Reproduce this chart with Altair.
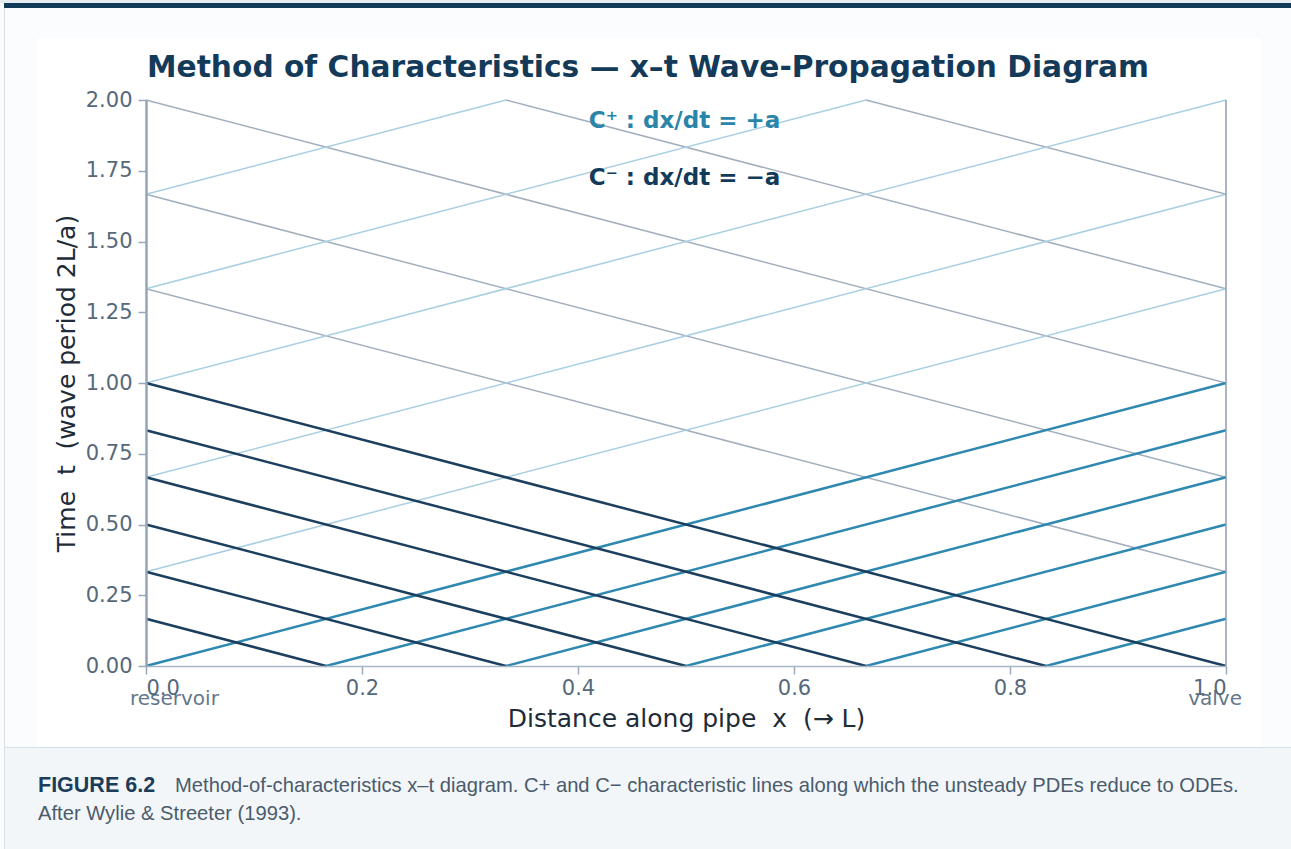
import altair as alt
import pandas as pd

# ---------------- data ----------------
# primary C+ characteristics (dark teal)
cp_x1 = [0.0, 0.1667, 0.3333, 0.5, 0.6667, 0.8333]
cp_t1 = [0.0, 0.0, 0.0, 0.0, 0.0, 0.0]
cp_x2 = [1.0, 1.0, 1.0, 1.0, 1.0, 1.0]
cp_t2 = [1.0, 0.8333, 0.6667, 0.5, 0.3333, 0.1667]

# primary C- characteristics (dark navy)
cm_x1 = [0.0, 0.0, 0.0, 0.0, 0.0, 0.0]
cm_t1 = [0.1667, 0.3333, 0.5, 0.6667, 0.8333, 1.0]
cm_x2 = [0.1667, 0.3333, 0.5, 0.6667, 0.8333, 1.0]
cm_t2 = [0.0, 0.0, 0.0, 0.0, 0.0, 0.0]

# reflected C+ (light blue)
rp_x1 = [0.0, 0.0, 0.0, 0.0, 0.0]
rp_t1 = [0.3333, 0.6667, 1.0, 1.3333, 1.6667]
rp_x2 = [1.0, 1.0, 1.0, 0.6667, 0.3333]
rp_t2 = [1.3333, 1.6667, 2.0, 2.0, 2.0]

# reflected C- (grey)
rm_x1 = [1.0, 1.0, 1.0, 1.0, 1.0]
rm_t1 = [0.3333, 0.6667, 1.0, 1.3333, 1.6667]
rm_x2 = [0.0, 0.0, 0.0, 0.3333, 0.6667]
rm_t2 = [1.3333, 1.6667, 2.0, 2.0, 2.0]

x_ticks = [0.0, 0.2, 0.4, 0.6, 0.8, 1.0]
t_ticks = [0.0, 0.25, 0.5, 0.75, 1.0, 1.25, 1.5, 1.75, 2.0]

legend_labels = ["C\u207a : dx/dt = +a", "C\u207b : dx/dt = \u2212a"]
legend_x = [0.41, 0.41]
legend_t = [1.9, 1.7]

end_labels = ["reservoir", "valve"]
end_x = [0.0, 1.0]

NB2 = "\u00a0\u00a0"
title_text = "Method of Characteristics \u2014 x\u2013t Wave-Propagation Diagram"
x_title = "Distance along pipe" + NB2 + "x" + NB2 + "(\u2192 L)"
y_title = "Time" + NB2 + "t" + NB2 + "(wave period 2L/a)"
fig_label = "FIGURE 6.2"
caption_1 = ("Method-of-characteristics x\u2013t diagram. C+ and C\u2212 characteristic lines "
             "along which the unsteady PDEs reduce to ODEs.")
caption_2 = "After Wylie & Streeter (1993)."

# ---------------- layout constants ----------------
W, H = 1080, 566
PL, PT = 146, 100
PR, PB = 1291 - PL - W, 849 - PT - H

C_PLUS = "#2f88af"
C_MINUS = "#1d3f5e"
C_PLUS_L = "#a9cfe2"
C_MINUS_L = "#a3afbd"
NAVY = "#143a5a"
FONT = "DejaVu Sans"
LABEL_C = "#56697b"


def seg_df(x1, t1, x2, t2):
    return pd.DataFrame({"x1": x1, "t1": t1, "x2": x2, "t2": t2})


xs = alt.Scale(domain=[0, 1], nice=False, zero=False)
ys = alt.Scale(domain=[0, 2], nice=False, zero=False)

x_axis = alt.Axis(values=x_ticks, format=".1f", grid=False, domainColor="#a9b7c5",
                  domainWidth=1.5, tickColor="#98a8b8", tickSize=8, tickWidth=1.5,
                  labelFont=FONT, labelFontSize=21, labelColor=LABEL_C, labelPadding=3,
                  title=x_title, titleFont=FONT,
                  titleFontSize=25, titleFontWeight="normal", titleColor="#1e2b38",
                  titleBaseline="alphabetic", titleY=60, zindex=1)
y_axis = alt.Axis(values=t_ticks, format=".2f", grid=False, domainColor="#93a5b6",
                  domainWidth=2.5, tickColor="#98a8b8", tickSize=8, tickWidth=1.5,
                  labelFont=FONT, labelFontSize=21, labelColor=LABEL_C, labelPadding=6,
                  title=y_title, titleFont=FONT, titleFontSize=25,
                  titleFontWeight="normal", titleColor="#1e2b38", titleAngle=-90,
                  titleBaseline="alphabetic", titleAlign="center", titleX=-72, titleY=H / 2,
                  zindex=1)

one = alt.Data(values=[{"k": 1}])


def deco_rect(x, x2, y, y2, color):
    return alt.Chart(one).mark_rect(color=color).encode(
        x=alt.value(x - PL), x2=alt.value(x2 - PL), y=alt.value(y - PT), y2=alt.value(y2 - PT))


# page decoration
top_strip = deco_rect(0, 1291, 0, 3, "#e7ecf1")
top_bar = deco_rect(4, 1291, 3, 8, "#123a59")
left_border = deco_rect(4, 5, 8, 849, "#d6dee6")
card = deco_rect(37, 1261, 38, 747, "#ffffff")
cap_band = deco_rect(5, 1291, 748, 849, "#f3f6f9")
cap_line = deco_rect(5, 1291, 747, 748, "#d6e0ea")


def seg_layer(df, color, width, with_axes=False):
    if with_axes:
        xe = alt.X("x1:Q", scale=xs, axis=x_axis)
        ye = alt.Y("t1:Q", scale=ys, axis=y_axis)
    else:
        xe = alt.X("x1:Q", scale=xs)
        ye = alt.Y("t1:Q", scale=ys)
    return alt.Chart(df).mark_rule(color=color, strokeWidth=width).encode(
        x=xe, y=ye, x2="x2:Q", y2="t2:Q")


l_rm = seg_layer(seg_df(rm_x1, rm_t1, rm_x2, rm_t2), C_MINUS_L, 1.5, with_axes=True)
l_rp = seg_layer(seg_df(rp_x1, rp_t1, rp_x2, rp_t2), C_PLUS_L, 1.5)
l_cp = seg_layer(seg_df(cp_x1, cp_t1, cp_x2, cp_t2), C_PLUS, 2.5)
l_cm = seg_layer(seg_df(cm_x1, cm_t1, cm_x2, cm_t2), C_MINUS, 2.5)

# valve boundary line at x = 1
valve_line = alt.Chart(pd.DataFrame({"x": [1.0], "t1": [0.0], "t2": [2.0]})).mark_rule(
    color="#8d9daf", strokeWidth=1.5).encode(
    x=alt.X("x:Q", scale=xs), y=alt.Y("t1:Q", scale=ys), y2="t2:Q")

leg_df = pd.DataFrame({"label": legend_labels, "x": legend_x, "t": legend_t})
legend_text = alt.Chart(leg_df).mark_text(
    font=FONT, fontSize=23, fontWeight="bold", align="left", baseline="alphabetic").encode(
    x=alt.X("x:Q", scale=xs), y=alt.Y("t:Q", scale=ys), text="label:N",
    color=alt.Color("label:N", scale=alt.Scale(domain=legend_labels, range=["#2a85aa", NAVY]),
                    legend=None))

end_df = pd.DataFrame({"label": end_labels, "x": end_x})
res_text = alt.Chart(end_df).transform_filter(alt.datum.label == "reservoir").mark_text(
    font=FONT, fontSize=20, color="#64778a", align="left", baseline="alphabetic", dx=-16).encode(
    x=alt.X("x:Q", scale=xs), y=alt.value(705 - PT), text="label:N")
valve_text = alt.Chart(end_df).transform_filter(alt.datum.label == "valve").mark_text(
    font=FONT, fontSize=20, color="#64778a", align="right", baseline="alphabetic", dx=16).encode(
    x=alt.X("x:Q", scale=xs), y=alt.value(705 - PT), text="label:N")

title = alt.Chart(alt.Data(values=[{"t": title_text}])).mark_text(
    font=FONT, fontSize=29.7, fontWeight="bold", color=NAVY, align="center",
    baseline="alphabetic").encode(x=alt.value(648 - PL), y=alt.value(77 - PT), text="t:N")

cap_fig = alt.Chart(alt.Data(values=[{"t": fig_label}])).mark_text(
    font="Liberation Sans", fontSize=21.5, fontWeight="bold", color="#1b3d5a", align="left",
    baseline="alphabetic").encode(
    x=alt.value(38 - PL), y=alt.value(792 - PT), text="t:N")
cap_1 = alt.Chart(alt.Data(values=[{"t": caption_1}])).mark_text(
    font="Liberation Sans", fontSize=20.2, color="#4a5b6c", align="left",
    baseline="alphabetic").encode(x=alt.value(175 - PL), y=alt.value(792 - PT), text="t:N")
cap_2 = alt.Chart(alt.Data(values=[{"t": caption_2}])).mark_text(
    font="Liberation Sans", fontSize=20.2, color="#4a5b6c", align="left",
    baseline="alphabetic").encode(x=alt.value(38 - PL), y=alt.value(820 - PT), text="t:N")

chart = alt.layer(
    top_strip, top_bar, left_border, card, cap_band, cap_line,
    l_rm, l_rp, l_cp, l_cm, valve_line,
    legend_text, res_text, valve_text, title, cap_fig, cap_1, cap_2,
).properties(
    width=W, height=H, background="#fafcfe",
    padding={"left": PL, "top": PT, "right": PR, "bottom": PB},
    autosize=alt.AutoSizeParams(type="none"),
).configure_view(stroke=None)

chart.save("out.html", embed_options={"renderer": "svg", "actions": False})
